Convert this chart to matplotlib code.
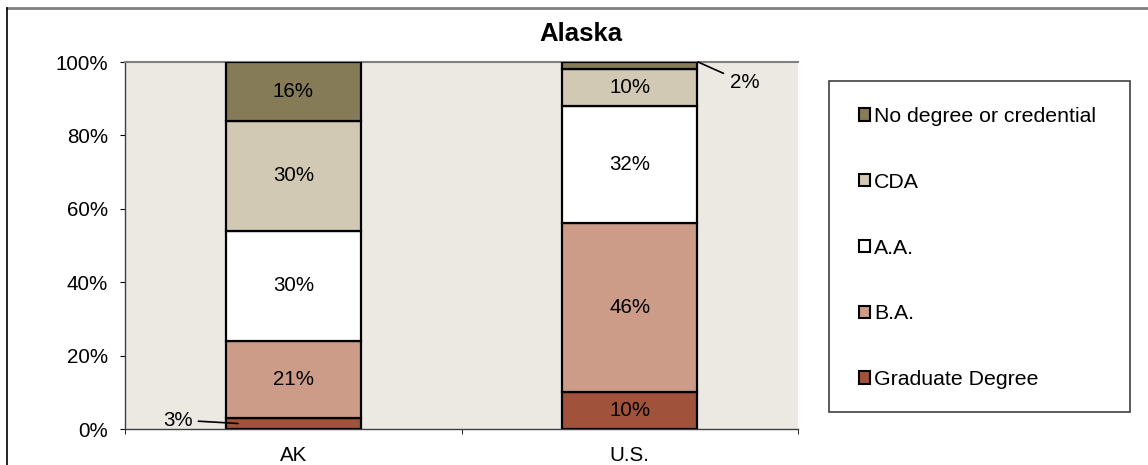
import matplotlib
matplotlib.use("Agg")
import matplotlib.pyplot as plt
from matplotlib.patches import Rectangle, Patch
from matplotlib.lines import Line2D
import numpy as np

plt.rcParams['font.family'] = ['Liberation Sans', 'DejaVu Sans']

categories = ["AK", "U.S."]
series_names = ["Graduate Degree", "B.A.", "A.A.", "CDA", "No degree or credential"]
graduate = [3, 10]
ba = [21, 46]
aa = [30, 32]
cda = [30, 10]
no_degree = [16, 2]
series_values = [graduate, ba, aa, cda, no_degree]
colors = ["#A0533A", "#CC9C88", "#FFFFFF", "#D1C9B4", "#867B57"]
yticks = [0, 20, 40, 60, 80, 100]
ytick_labels = ["0%", "20%", "40%", "60%", "80%", "100%"]

FS = 14.8
W, H = 1148, 465
fig = plt.figure(figsize=(W / 100, H / 100), dpi=100)
ax = fig.add_axes([125 / W, 1 - 429 / H, (798 - 125) / W, (429 - 62) / H])
ax.set_facecolor("#ECE9E2")

x = np.arange(len(categories))
bottom = np.zeros(len(categories))
bars = []
for name, vals, c in zip(series_names, series_values, colors):
    b = ax.bar(x, vals, width=0.4, bottom=bottom, color=c, edgecolor="black",
               linewidth=1.6, label=name, zorder=3)
    bars.append((b, vals, bottom.copy()))
    bottom += np.array(vals)

# labels inside segments
for b, vals, bot in bars:
    for i, (rect, v) in enumerate(zip(b, vals)):
        if v >= 5:
            ax.text(rect.get_x() + rect.get_width() / 2, bot[i] + v / 2, f"{v}%",
                    ha="center", va="center", fontsize=FS, zorder=4)

# leader labels for small segments
ax.annotate(f"{graduate[0]}%", xy=(-0.164, graduate[0] / 2), xytext=(-0.3425, 2.45),
            ha="center", va="center", fontsize=FS,
            arrowprops=dict(arrowstyle="-", color="black", lw=1.2, shrinkA=2, shrinkB=0), zorder=5)
ax.annotate(f"{no_degree[1]}%", xy=(1.203, 100), xytext=(1.342, 94.3),
            ha="center", va="center", fontsize=FS, annotation_clip=False,
            arrowprops=dict(arrowstyle="-", color="black", lw=1.2, shrinkA=3, shrinkB=0), zorder=5)

ax.set_xlim(-0.5, 1.5)
ax.set_ylim(0, 100)
ax.set_yticks(yticks)
ax.set_yticklabels(ytick_labels, fontsize=FS)
ax.set_xticks(x)
ax.set_xticklabels(categories, fontsize=FS)
ax.tick_params(axis="x", which="major", length=0, pad=12)
ax.set_xticks([-0.5, 0.5, 1.5], minor=True)
ax.tick_params(axis="x", which="minor", length=3.6, direction="out", color="black")
ax.tick_params(axis="y", length=3.6, direction="out", color="black", pad=8.5)

ax.spines["right"].set_visible(False)
ax.spines["top"].set_color("#808080")
ax.spines["top"].set_linewidth(1.5)
ax.spines["left"].set_color("#404040")
ax.spines["left"].set_linewidth(1.0)
ax.spines["bottom"].set_color("#404040")
ax.spines["bottom"].set_linewidth(1.0)

fig.text(581 / W, 1 - 34 / H, "Alaska", ha="center", va="center",
         fontsize=18.5, fontweight="bold")

# legend frame
fig.patches.append(Rectangle((829 / W, 1 - 412 / H), (1130 - 829) / W, (412 - 81) / H,
                             transform=fig.transFigure, facecolor="white",
                             edgecolor="#404040", linewidth=1.2, zorder=1))
handles = [Patch(facecolor=c, edgecolor="black", linewidth=1.5) for c in colors][::-1]
labels = series_names[::-1]
leg = fig.legend(handles, labels, loc="upper left",
                 bbox_to_anchor=(859 / W, 1 - 107 / H), frameon=False,
                 fontsize=15.3, handlelength=0.5, handleheight=0.5,
                 handletextpad=0.2, labelspacing=2.2, borderpad=0, borderaxespad=0)

# figure border (top and left)
fig.add_artist(Line2D([7 / W, 1], [1 - 8 / H, 1 - 8 / H], transform=fig.transFigure,
                      color="#808080", linewidth=2))
fig.add_artist(Line2D([7 / W, 7 / W], [0, 1 - 8 / H], transform=fig.transFigure,
                      color="black", linewidth=1.2))

fig.savefig("out.png", dpi=100)
